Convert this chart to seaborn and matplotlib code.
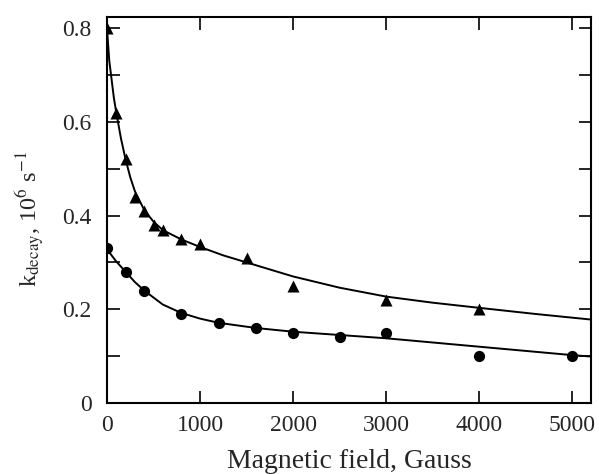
import matplotlib
matplotlib.use("Agg")
import matplotlib.pyplot as plt
import seaborn as sns
import pandas as pd
from matplotlib.ticker import MultipleLocator

# measured points
tri_x = [0, 100, 200, 300, 400, 500, 600, 800, 1000, 1500, 2000, 3000, 4000]
tri_y = [0.80, 0.62, 0.52, 0.44, 0.41, 0.38, 0.37, 0.35, 0.34, 0.31, 0.25, 0.22, 0.20]
dot_x = [0, 200, 400, 800, 1200, 1600, 2000, 2500, 3000, 4000, 5000]
dot_y = [0.33, 0.28, 0.24, 0.19, 0.17, 0.16, 0.15, 0.14, 0.15, 0.10, 0.10]

# fitted curves
fit_up_x = [0, 25, 50, 75, 100, 150, 200, 250, 300, 400, 500, 600, 800, 1000, 1250, 1500, 2000, 2500, 3000, 3500, 4000, 4600, 5200]
fit_up_y = [0.80, 0.73, 0.69, 0.65, 0.62, 0.565, 0.52, 0.482, 0.452, 0.412, 0.387, 0.369, 0.349, 0.333, 0.315, 0.300, 0.270, 0.246, 0.227, 0.214, 0.203, 0.190, 0.178]
fit_lo_x = [0, 100, 200, 300, 400, 600, 800, 1000, 1200, 1600, 2000, 2500, 3000, 3500, 4000, 4500, 5000, 5200]
fit_lo_y = [0.328, 0.302, 0.280, 0.258, 0.240, 0.210, 0.192, 0.180, 0.171, 0.160, 0.152, 0.145, 0.138, 0.129, 0.120, 0.111, 0.102, 0.099]

x_ticks = [0, 1000, 2000, 3000, 4000, 5000]
y_ticks = [0, 0.2, 0.4, 0.6, 0.8]
y_tick_labels = ['0', '0.2', '0.4', '0.6', '0.8']

sns.set_style("ticks")
plt.rcParams['font.family'] = ['Liberation Serif', 'DejaVu Serif']
plt.rcParams['mathtext.fontset'] = 'stix'

fig = plt.figure(figsize=(5.99, 4.74), dpi=100)
ax = fig.add_axes([0.1786, 0.150, 0.808, 0.814])

sns.lineplot(x=fit_up_x, y=fit_up_y, ax=ax, color='black', lw=1.4, sort=False, estimator=None)
sns.lineplot(x=fit_lo_x, y=fit_lo_y, ax=ax, color='black', lw=1.4, sort=False, estimator=None)
sns.scatterplot(x=tri_x, y=tri_y, ax=ax, marker='^', color='black', s=75, edgecolor='black', linewidth=0, zorder=5)
sns.scatterplot(x=dot_x, y=dot_y, ax=ax, marker='o', color='black', s=65, edgecolor='black', linewidth=0, zorder=5)

ax.set_xlim(0, 5200)
ax.set_ylim(0, 0.824)
ax.set_xticks(x_ticks)
ax.set_yticks(y_ticks)
ax.set_yticklabels(y_tick_labels)
ax.yaxis.set_minor_locator(MultipleLocator(0.1))
ax.tick_params(which='both', direction='in', top=True, right=True, labelsize=17, width=1.2, color='black')
ax.tick_params(which='major', length=9)
ax.tick_params(which='minor', length=9)
ax.tick_params(axis='x', pad=9)
ax.tick_params(axis='y', pad=11)
for s in ax.spines.values():
    s.set_linewidth(1.5)
    s.set_color('black')

ax.set_xlabel('Magnetic field, Gauss', fontsize=20, labelpad=9)
ax.set_ylabel(r'k$_{\mathrm{decay}}$, 10$^{6}$ s$^{-1}$', fontsize=17.5)
ax.yaxis.set_label_coords(-0.124, 0.477)

fig.savefig('out.png', dpi=100)
